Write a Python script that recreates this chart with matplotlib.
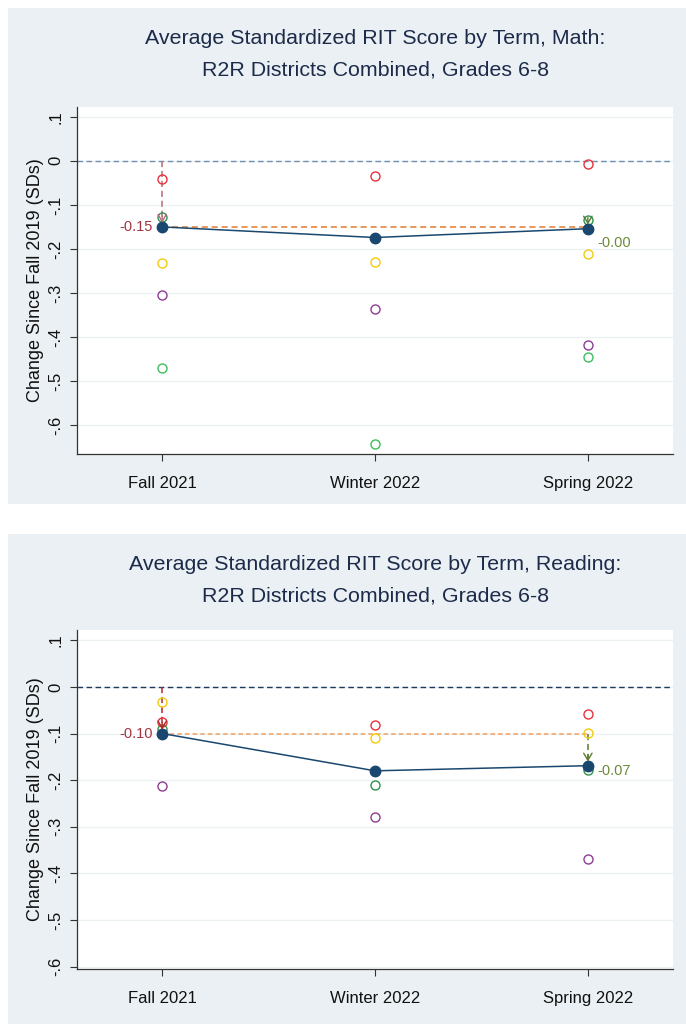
import matplotlib
matplotlib.use("Agg")
import matplotlib.pyplot as plt
import numpy as np
from matplotlib.patches import Rectangle

plt.rcParams['font.family'] = ['Liberation Sans', 'DejaVu Sans']

terms = ["Fall 2021", "Winter 2022", "Spring 2022"]
nan = np.nan

# math, grades 6-8
math_mean = [-0.150, -0.174, -0.154]
math_red = [-0.041, -0.035, -0.008]
math_yellow = [-0.232, -0.230, -0.212]
math_purple = [-0.305, -0.336, -0.418]
math_green = [-0.469, -0.642, -0.444]
math_dkgreen = [-0.128, nan, -0.135]

# reading, grades 6-8
read_mean = [-0.100, -0.180, -0.169]
read_red = [-0.075, -0.082, -0.058]
read_yellow = [-0.032, -0.110, -0.098]
read_purple = [-0.212, -0.280, -0.370]
read_green = [nan, nan, nan]
read_dkgreen = [-0.090, -0.210, -0.178]

yticks = [0.1, 0, -0.1, -0.2, -0.3, -0.4, -0.5, -0.6]
ytick_labels = [".1", "0", "-.1", "-.2", "-.3", "-.4", "-.5", "-.6"]

W, H = 686, 1024
BG = "#eaf0f3"
NAVY = "#1a476f"

fig = plt.figure(figsize=(W / 100, H / 100), dpi=100)
fig.patch.set_facecolor("white")


def px_axes(l, t, r, b):
    return fig.add_axes([l / W, 1 - b / H, (r - l) / W, (b - t) / H])


def panel(bg_top, bg_bot, ax_top, ax_bot, ylim, subject, series, mean,
          zero_col, hl_col, hl_dash, vl_col, lab_off):
    fig.patches.append(Rectangle((8 / W, 1 - bg_bot / H), 1, (bg_bot - bg_top) / H,
                                 transform=fig.transFigure, facecolor=BG,
                                 edgecolor="none", zorder=-10))
    ax = px_axes(77, ax_top, 673, ax_bot)
    ax.set_facecolor("white")
    x = np.arange(len(terms))
    ax.set_xlim(-0.4, 2.4)
    ax.set_ylim(*ylim)
    for yt in yticks:
        ax.axhline(yt, color="#edf1f3", lw=1.0, zorder=0)
    ax.axhline(0, color=zero_col, lw=1.0, ls=(0, (4, 2.5)), zorder=1)

    for vals, col in series:
        ax.plot(x, vals, 'o', ms=6.5, mfc="none", mec=col, mew=1.0, zorder=4)

    ax.plot(x, mean, '-', color=NAVY, lw=1.1, zorder=5)
    ax.plot(x, mean, 'o', ms=7.5, color=NAVY, zorder=6)

    fall, spring = mean[0], mean[-1]
    ax.plot([0, 2], [fall, fall], color=hl_col, lw=1.1, ls=hl_dash, zorder=3)
    ax.plot([0, 0], [0, fall], color=vl_col, lw=1.1, ls=(0, (4, 2.5)), zorder=3)
    ax.annotate("", xy=(0, fall), xytext=(0, 8), textcoords="offset points",
                arrowprops=dict(arrowstyle="->,head_length=0.5,head_width=0.3",
                                color=vl_col, lw=1.0, shrinkA=0, shrinkB=3), zorder=7)
    ax.plot([2, 2], [fall, spring], color="#5a7a30", lw=1.1, ls=(0, (4, 2.5)), zorder=3)
    ax.annotate("", xy=(2, spring), xytext=(0, 8), textcoords="offset points",
                arrowprops=dict(arrowstyle="->,head_length=0.5,head_width=0.3",
                                color="#5a7a30", lw=1.0, shrinkA=0, shrinkB=3), zorder=7)

    ax.annotate(f"{fall:.2f}", xy=(0, fall), xytext=(-7, 0), textcoords="offset points",
                ha="right", va="center", fontsize=10.5, color="#a3343f")
    ax.annotate(f"{spring - fall:.2f}", xy=(2, spring), xytext=(7, lab_off),
                textcoords="offset points", ha="left", va="center",
                fontsize=10.5, color="#6b8a3a")

    ax.set_xticks(x)
    ax.set_xticklabels(terms, fontsize=12)
    ax.set_yticks(yticks)
    ax.set_yticklabels(ytick_labels, fontsize=12, rotation=90, va="center")
    ax.tick_params(axis="both", direction="out", length=5, width=0.8, color="#333333",
                   labelcolor="#111111", pad=5)
    ax.tick_params(axis="x", pad=11)
    for s in ["top", "right"]:
        ax.spines[s].set_visible(False)
    for s in ["left", "bottom"]:
        ax.spines[s].set_color("#333333")
        ax.spines[s].set_linewidth(0.9)
    ax.set_ylabel("Change Since Fall 2019 (SDs)", fontsize=13, color="#111111", labelpad=3)
    fig.text(375 / W, 1 - (bg_top + 31) / H,
             f"Average Standardized RIT Score by Term, {subject}:",
             ha="center", va="center", fontsize=15.4, color="#1c2b4a")
    fig.text(375 / W, 1 - (bg_top + 62) / H, "R2R Districts Combined, Grades 6-8",
             ha="center", va="center", fontsize=15.4, color="#1c2b4a")
    return ax


panel(8, 504, 107, 454, (-0.665, 0.122), "Math",
      [(math_red, "#e8313c"), (math_yellow, "#f2cc0c"), (math_purple, "#8e3c93"),
       (math_green, "#3cbf5c"), (math_dkgreen, "#2e9150")],
      math_mean, "#6f8fb3", "#e07a30", (0, (4, 2.5)), "#b86a78", -10)

panel(534, 1024, 630, 969, (-0.605, 0.122), "Reading",
      [(read_red, "#e8313c"), (read_yellow, "#f2cc0c"), (read_purple, "#8e3c93"),
       (read_green, "#3cbf5c"), (read_dkgreen, "#2e9150")],
      read_mean, "#1c3a5e", "#f0a060", (0, (3, 2)), "#b02a2a", -4)

fig.savefig("out.png", dpi=100, facecolor=fig.get_facecolor())
